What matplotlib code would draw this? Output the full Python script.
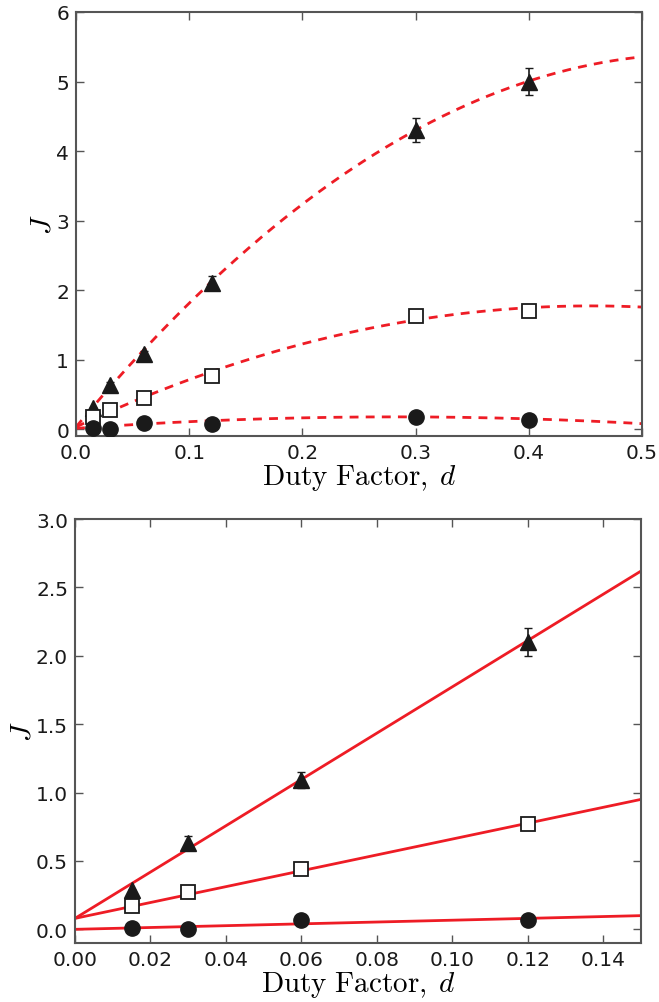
import numpy as np
import matplotlib
matplotlib.use("Agg")
import matplotlib.pyplot as plt

plt.rcParams['mathtext.fontset'] = 'cm'
plt.rcParams['font.family'] = ['DejaVu Sans']

# ---- data ----
d_top = [0.015, 0.03, 0.06, 0.12, 0.30, 0.40]
tri_top = [0.30, 0.63, 1.08, 2.10, 4.30, 5.00]
tri_top_err = [0.0, 0.05, 0.05, 0.10, 0.17, 0.20]
sq_top = [0.17, 0.27, 0.44, 0.77, 1.62, 1.70]
sq_top_err = [0.0, 0.0, 0.0, 0.04, 0.0, 0.0]
circ_top = [0.01, 0.00, 0.08, 0.07, 0.18, 0.13]

# quadratic fit coefficients (a + b d + c d^2)
fit_tri_q = [0.03, 19.6, -17.9]
fit_sq_q = [0.03, 7.65, -8.4]
fit_circ_q = [0.01, 1.17, -2.07]

d_bot = [0.015, 0.03, 0.06, 0.12]
tri_bot = [0.29, 0.63, 1.09, 2.10]
tri_bot_err = [0.0, 0.05, 0.06, 0.10]
sq_bot = [0.17, 0.27, 0.44, 0.77]
sq_bot_err = [0.0, 0.0, 0.0, 0.04]
circ_bot = [0.01, 0.00, 0.07, 0.07]

# linear fit coefficients (a + b d)
fit_tri_l = [0.08, 16.93]
fit_sq_l = [0.08, 5.80]
fit_circ_l = [0.00, 0.667]

xticks_top = [0.0, 0.1, 0.2, 0.3, 0.4, 0.5]
yticks_top = [0, 1, 2, 3, 4, 5, 6]
xticks_bot = [0.00, 0.02, 0.04, 0.06, 0.08, 0.10, 0.12, 0.14]
yticks_bot = [0.0, 0.5, 1.0, 1.5, 2.0, 2.5, 3.0]

W, H = 659, 1003
fig = plt.figure(figsize=(W/100, H/100), dpi=100)
ax1 = fig.add_axes([76/W, 1-437/H, (642-76)/W, (437-13)/H])
ax2 = fig.add_axes([75/W, 1-944/H, (641-75)/W, (944-520)/H])

mk = dict(color='#1a1a1a', ecolor='#1a1a1a', elinewidth=1.2, capsize=3,
          linestyle='none', zorder=3)
red = '#ee1c25'
spine_c = '#555555'
fs_tick = 14.5
fs_lab = 21

def style(ax):
    for s in ax.spines.values():
        s.set_color(spine_c)
        s.set_linewidth(1.5)
    ax.tick_params(direction='in', top=True, right=True, length=6, width=1,
                   color=spine_c, labelsize=fs_tick, pad=5, labelcolor='#1a1a1a')

# top
xs = np.linspace(0, 0.5, 300)
for c in (fit_tri_q, fit_sq_q, fit_circ_q):
    ax1.plot(xs, c[0] + c[1]*xs + c[2]*xs**2, '--', color=red, lw=2,
             dashes=(3.2, 2.6), zorder=2)
ax1.errorbar(d_top, tri_top, yerr=tri_top_err, marker='^', ms=11, **mk)
ax1.errorbar(d_top, sq_top, yerr=sq_top_err, marker='s', ms=10.5,
             mfc='white', mec='#1a1a1a', mew=1.3, **mk)
ax1.errorbar(d_top, circ_top, marker='o', ms=11, **mk)
ax1.set_xlim(0, 0.5)
ax1.set_ylim(-0.1, 6)
ax1.set_xticks(xticks_top)
ax1.set_yticks(yticks_top)
ax1.set_xticklabels(['0.0', '0.1', '0.2', '0.3', '0.4', '0.5'])
ax1.set_yticklabels([str(v) for v in yticks_top])
ax1.set_xlabel(r'$\mathrm{Duty\ Factor,}\;d$', fontsize=fs_lab, labelpad=0)
ax1.set_ylabel(r'$J$', fontsize=fs_lab)
ax1.yaxis.set_label_coords(-0.034, 0.5)
style(ax1)

# bottom
xs = np.linspace(0, 0.15, 100)
for c in (fit_tri_l, fit_sq_l, fit_circ_l):
    ax2.plot(xs, c[0] + c[1]*xs, '-', color=red, lw=2, zorder=2)
ax2.errorbar(d_bot, tri_bot, yerr=tri_bot_err, marker='^', ms=11, **mk)
ax2.errorbar(d_bot, sq_bot, yerr=sq_bot_err, marker='s', ms=10.5,
             mfc='white', mec='#1a1a1a', mew=1.3, **mk)
ax2.errorbar(d_bot, circ_bot, marker='o', ms=11, **mk)
ax2.set_xlim(0, 0.15)
ax2.set_ylim(-0.1, 3.0)
ax2.set_xticks(xticks_bot)
ax2.set_yticks(yticks_bot)
ax2.set_xticklabels(['%.2f' % v for v in xticks_bot])
ax2.set_yticklabels(['%.1f' % v for v in yticks_bot])
ax2.set_xlabel(r'$\mathrm{Duty\ Factor,}\;d$', fontsize=fs_lab, labelpad=0)
ax2.set_ylabel(r'$J$', fontsize=fs_lab)
ax2.yaxis.set_label_coords(-0.068, 0.5)
style(ax2)

fig.savefig('out.png', dpi=100)
